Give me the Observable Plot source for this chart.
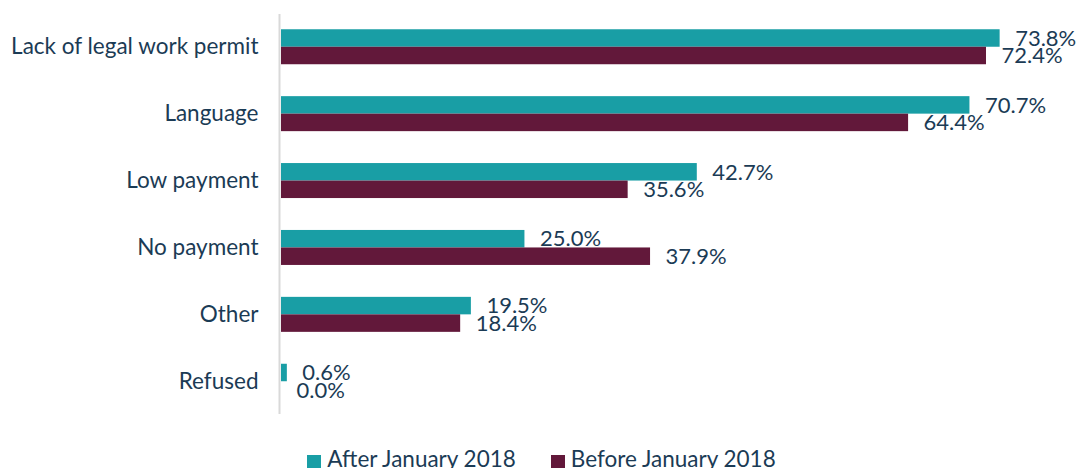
<!DOCTYPE html>
<html>
<head>
<meta charset="utf-8">
<script src="https://cdn.jsdelivr.net/npm/d3@7"></script>
<script src="https://cdn.jsdelivr.net/npm/@observablehq/plot@0.6"></script>
<style>
  html, body { margin: 0; padding: 0; background: #fff; }
  body { width: 1076px; height: 468px; overflow: hidden; font-family: Lato, "Open Sans", sans-serif; }
  #legend { display: flex; justify-content: center; gap: 35px; margin-top: 6px; margin-left: 7px;
            font-size: 22.5px; line-height: 26px; color: #1b3b55; white-space: nowrap; }
  #legend span.item { display: inline-flex; align-items: center; }
  #legend span.sw { display: inline-block; width: 14px; height: 13px; margin-right: 6px; margin-top: 5px; }
</style>
</head>
<body>
<div id="chart"></div>
<script>
const categories = ["Lack of legal work permit", "Language", "Low payment", "No payment", "Other", "Refused"];
const afterValues = [73.8, 70.7, 42.7, 25.0, 19.5, 0.6];
const beforeValues = [72.4, 64.4, 35.6, 37.9, 18.4, 0.0];
const seriesNames = ["After January 2018", "Before January 2018"];
const seriesColors = ["#199ea5", "#62183a"];

const after = categories.map((c, i) => ({category: c, value: afterValues[i]}));
const before = categories.map((c, i) => ({category: c, value: beforeValues[i]}));

const textColor = "#1b3b55";
const half = 17.5;

const chart = Plot.plot({
  width: 1076,
  height: 440,
  marginLeft: 281,
  marginRight: 16,
  marginTop: 14,
  marginBottom: 26,
  style: {fontFamily: "Lato, 'Open Sans', sans-serif", background: "#fff"},
  x: {domain: [0, 80], axis: null},
  y: {domain: categories, paddingInner: 0.477, paddingOuter: 0.228, round: false, label: null},
  axis: null,
  marks: [
    Plot.axisY({tickSize: 0, tickPadding: 23, fontSize: 22.5, color: textColor, label: null}),
    Plot.barX(after, {x: "value", y: "category", fill: seriesColors[0], insetBottom: half}),
    Plot.barX(before, {x: "value", y: "category", fill: seriesColors[1], insetTop: half}),
    Plot.text(after, {x: "value", y: "category", text: d => d.value.toFixed(1) + "%", dx: 15, dy: -8.5, textAnchor: "start", fontSize: 22, fill: textColor}),
    Plot.text(before, {x: "value", y: "category", text: d => d.value.toFixed(1) + "%", dx: 15, dy: 9, textAnchor: "start", fontSize: 22, fill: textColor}),
    Plot.ruleX([0], {dx: -2, stroke: "#d9d9d9", strokeWidth: 2})
  ]
});
document.getElementById("chart").appendChild(chart);

const legend = document.createElement("div");
legend.id = "legend";
seriesNames.forEach((name, i) => {
  const item = document.createElement("span");
  item.className = "item";
  const sw = document.createElement("span");
  sw.className = "sw";
  sw.style.background = seriesColors[i];
  item.appendChild(sw);
  item.appendChild(document.createTextNode(name));
  legend.appendChild(item);
});
document.body.appendChild(legend);
</script>
</body>
</html>
